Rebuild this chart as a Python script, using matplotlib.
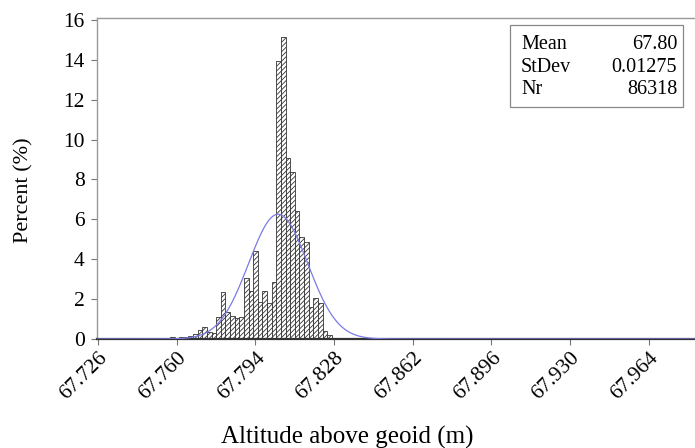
import numpy as np
import matplotlib
matplotlib.use('Agg')
import matplotlib.pyplot as plt

plt.rcParams['font.family'] = ['Liberation Serif', 'DejaVu Serif']
plt.rcParams['hatch.color'] = '#555555'
plt.rcParams['hatch.linewidth'] = 0.6

# histogram bins (left edges, width 0.002 m) and percent per bin
bin_width = 0.002
bin_left = [67.757, 67.759, 67.761, 67.763, 67.765,
            67.767, 67.769, 67.771, 67.773, 67.775,
            67.777, 67.779, 67.781, 67.783, 67.785,
            67.787, 67.789, 67.791, 67.793, 67.795,
            67.797, 67.799, 67.801, 67.803, 67.805,
            67.807, 67.809, 67.811, 67.813, 67.815,
            67.817, 67.819, 67.821, 67.823, 67.825,
            67.827, 67.829, 67.899, 67.901]
percent = [0.12, 0.05, 0.10, 0.12, 0.15,
           0.25, 0.47, 0.62, 0.33, 0.28,
           1.12, 2.34, 1.37, 1.15, 1.05,
           1.10, 3.06, 2.40, 4.40, 1.84,
           2.40, 1.80, 2.85, 13.95, 15.15,
           9.10, 8.35, 6.40, 5.10, 4.85,
           1.60, 2.05, 1.80, 0.40, 0.22,
           0.05, 0.03, 0.04, 0.04]

# statistics shown in the box (mean used unrounded for the fitted curve)
mean_val = 67.8038
std_val = 0.01275
n_val = 86318

x_ticks = [67.726, 67.760, 67.794, 67.828, 67.862, 67.896, 67.930, 67.964]
y_ticks = [0, 2, 4, 6, 8, 10, 12, 14, 16]

fig = plt.figure(figsize=(6.95, 4.48), dpi=100, facecolor='white')
ax = fig.add_axes([0.1396, 0.2433, 0.8604, 0.7167])

ax.bar(bin_left, percent, width=bin_width, align='edge', color='white',
       edgecolor='#333333', linewidth=0.6, hatch='///////', zorder=2)

xs = np.linspace(67.725, 67.984, 600)
pdf = 100 * bin_width / (std_val * np.sqrt(2 * np.pi)) * np.exp(-0.5 * ((xs - mean_val) / std_val) ** 2)
ax.plot(xs, pdf, color='#7b7be6', lw=0.9, zorder=3)

ax.set_xlim(67.7255, 67.984)
ax.set_ylim(0, 16.1)
ax.set_xticks(x_ticks)
ax.set_xticklabels(['%.3f' % v for v in x_ticks], rotation=45, ha='right',
                   rotation_mode='anchor', fontsize=15.5)
ax.set_yticks(y_ticks)
ax.set_yticklabels([str(v) for v in y_ticks], fontsize=15.5)
ax.tick_params(axis='both', direction='out', length=4, width=0.8, color='#777777', pad=3)
ax.tick_params(axis='y', pad=5)

for s in ['top', 'left']:
    ax.spines[s].set_color('#999999')
    ax.spines[s].set_linewidth(1.0)
ax.spines['right'].set_visible(False)
ax.spines['bottom'].set_color('#333333')
ax.spines['bottom'].set_linewidth(1.6)

ax.set_ylabel('Percent (%)', fontsize=16)
ax.yaxis.set_label_coords(-0.106, 0.464)
ax.set_xlabel('Altitude above geoid (m)', fontsize=18)
ax.xaxis.set_label_coords(0.418, -0.272)

# stats box
box = plt.Rectangle((0.691, 0.723), 0.289, 0.255, transform=ax.transAxes,
                    facecolor='white', edgecolor='#888888', lw=0.9, zorder=4)
ax.add_patch(box)
labels = ['Mean', 'StDev', 'Nr']
values = ['%.2f' % mean_val, '%.5f' % std_val, '%d' % n_val]
for i in range(3):
    yy = 0.916 - i * 0.07
    ax.text(0.709, yy, labels[i], transform=ax.transAxes, fontsize=14.5,
            va='center', ha='left', zorder=5)
    ax.text(0.97, yy, values[i], transform=ax.transAxes, fontsize=14.5,
            va='center', ha='right', zorder=5)

plt.savefig('out.png', dpi=100)
